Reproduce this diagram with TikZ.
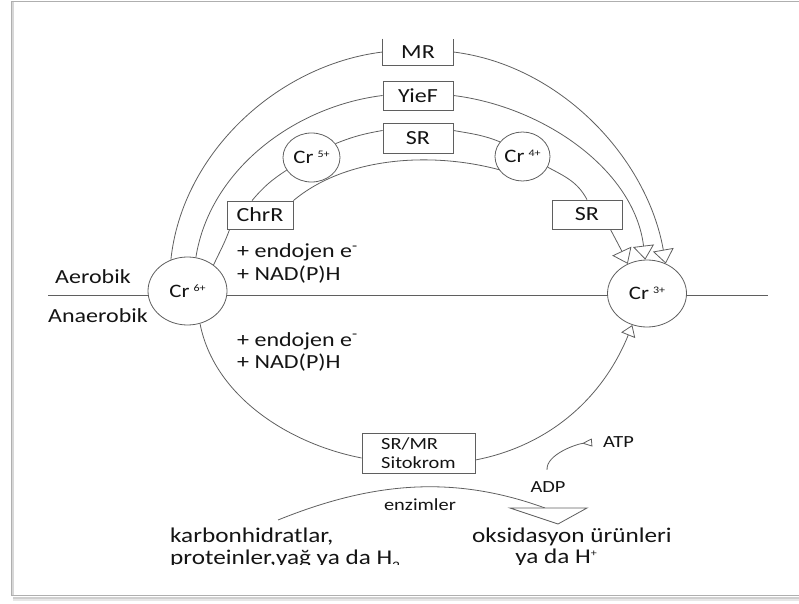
\documentclass[tikz,border=0pt]{standalone}
\usepackage{fontspec}
\setmainfont{Carlito}[FakeStretch=1.2]
\usetikzlibrary{shapes.geometric,arrows.meta}

\definecolor{linegray}{RGB}{95,95,95}
\definecolor{textgray}{RGB}{20,20,20}
\definecolor{framegray}{RGB}{175,175,175}

\newcommand{\crion}[1]{Cr\hspace{4pt}\raisebox{6.5pt}{\fontsize{10}{10}\selectfont #1}}

\begin{document}
\begin{tikzpicture}[x=1pt,y=1pt,
  every node/.style={text=textgray},
  crball/.style={ellipse, draw=linegray, line width=0.8pt, fill=white, inner sep=0pt, font=\fontsize{19}{21}\selectfont},
  enzbox/.style={rectangle, draw=linegray, line width=0.8pt, fill=white, minimum width=70pt, minimum height=29pt, inner sep=0pt, font=\fontsize{20}{22}\selectfont},
  lbl/.style={inner sep=0pt, font=\fontsize{20}{22}\selectfont},
  smalltxt/.style={inner sep=0pt, font=\fontsize{17}{19}\selectfont},
  bigtxt/.style={inner sep=0pt, font=\fontsize{21}{23}\selectfont},
  conn/.style={draw=linegray, line width=0.8pt},
  opentip/.style={-{Triangle[open, width=21pt, length=14pt]}}]
\useasboundingbox (0,0) rectangle (799,603);
% frame
\draw[framegray, line width=1pt] (805,601) -- (11,601) -- (11,8) -- (805,8);
\draw[framegray!60, line width=2pt] (13,5.5) -- (805,5.5);
\draw[framegray!30, line width=2pt] (13,3.5) -- (805,3.5);
\draw[framegray!50, line width=2pt] (13,8) -- (13,601);

% chromium ions
\node[crball, minimum width=79pt, minimum height=68pt] (cr6) at (187.5,312) {\crion{6+}};
\node[crball, minimum width=79pt, minimum height=67pt] (cr3) at (647,309.5) {\crion{3+}};
\node[crball, minimum width=57pt, minimum height=49pt] (cr5) at (311.5,445.5) {\crion{5+}};
\node[crball, minimum width=55pt, minimum height=49pt] (cr4) at (522.5,446.5) {\crion{4+}};

% reductases
\node[enzbox, draw=none, minimum height=26pt] (mr) at (418,551) {MR};
\draw[conn] (mr.north west) -- (mr.south west) -- (mr.south east) -- (mr.north east);
\node[enzbox] (yief) at (418,507.5) {YieF};
\node[enzbox, minimum height=30pt] (sr) at (418,465) {SR};
\node[enzbox, minimum width=66pt, minimum height=28pt] (chrr) at (260,388) {ChrR};
\node[enzbox] (srb) at (587,388.5) {SR};
\node[enzbox, minimum width=113pt, minimum height=40pt, align=left, font=\fontsize{17}{19}\selectfont] (srmr) at (418.5,150) {SR/MR\\Sitokrom};

% aerobic / anaerobic
\coordinate (hl) at (48,307.5);
\coordinate (hr) at (768,307.5);
\draw[conn] (hl) -- (hl -| cr6.west);
\draw[conn] (hl -| cr6.east) -- (hl -| cr3.west);
\draw[conn] (hl -| cr3.east) -- (hr);
\node[lbl, anchor=base west] (aero) at (55,320) {Aerobik};
\node[lbl, anchor=base west] (anaero) at (48,281) {Anaerobik};
\node[lbl, anchor=base west] (endo) at (237,345) {+ endojen e\textsuperscript{-}};
\node[lbl, anchor=base west] (nad) at (237,323) {+ NAD(P)H};
\node[lbl, anchor=base west] (endob) at (237,257) {+ endojen e\textsuperscript{-}};
\node[lbl, anchor=base west] (nadb) at (237,235) {+ NAD(P)H};

% MR and YieF
\draw[conn] (cr6.118) to[out=84, in=187, looseness=0.92] (mr.west);
\draw[conn, opentip] (mr.east) to[out=-7, in=100, looseness=0.92] (cr3.58);
\draw[conn] (cr6.76) to[out=81, in=187, looseness=0.92] (yief.west);
\draw[conn, opentip] (yief.east) to[out=-7, in=97, looseness=0.92] (cr3.93);

% ChrR and SR
\draw[conn] (cr6.45) to[out=65, in=-110] ([xshift=3pt]chrr.south west);
\draw[conn] ([xshift=-8pt]chrr.north) to[out=50, in=213] (cr5.207);
\draw[conn] (cr5.30) to[out=22, in=190] (sr.168);
\draw[conn] (sr.12) to[out=-10, in=158] (cr4.147);
\draw[conn] (chrr.north east) to[out=40, in=165, looseness=0.85] (cr4.209);
\draw[conn] (cr4.-23) to[out=-28, in=118] (srb.north);
\draw[conn, opentip] ([xshift=-12pt]srb.south east) to[out=-62, in=115] (cr3.123);

% anaerobic path
\draw[conn] (cr6.-69) to[out=-79, in=169, looseness=0.9] (srmr.185);
\draw[conn, -{Triangle[open, width=15pt, length=11pt]}] (srmr.-7) to[out=11, in=-112, looseness=0.95] (cr3.-115);

% oxidation of donors (bottom lines cut off as in the source)
\begin{scope}
\clip (0,38.5) rectangle (799,603);
\node[bigtxt, anchor=base west] (carb) at (170,61) {karbonhidratlar,};
\node[bigtxt, anchor=base west] (prot) at (170,39) {proteinler,yağ ya da H\raisebox{-6pt}{\fontsize{13}{13}\selectfont 2}};
\node[bigtxt, anchor=base west] (oks) at (472,61) {oksidasyon ürünleri};
\node[bigtxt, anchor=base] (yada) at (556,40) {ya da H\raisebox{7pt}{\fontsize{10}{10}\selectfont +}};
\end{scope}
\node[smalltxt, anchor=base] (enz) at (420,93) {enzimler};
\coordinate (enzstart) at (278,83);
\coordinate (enzend) at (545,95);
\draw[conn] (enzstart) to[out=22, in=160, looseness=0.95] (enzend);
\draw[conn, fill=white] (510,95) -- (587,95) -- (558,79) -- cycle;

% ATP
\node[smalltxt, anchor=base] (adp) at (548,111) {ADP};
\node[smalltxt, anchor=base west] (atp) at (603,156) {ATP};
\draw[conn, -{Triangle[open, reversed, width=8pt, length=10pt]}, shorten <=11pt, shorten >=11pt] (adp.north) to[out=95, in=185] (atp.west);
\end{tikzpicture}
\end{document}
